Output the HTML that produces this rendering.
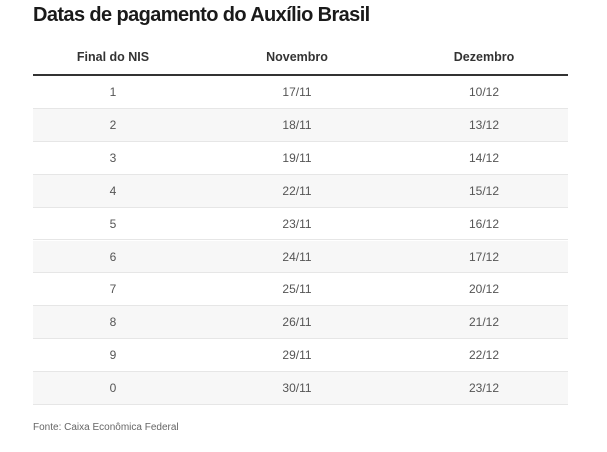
<!DOCTYPE html>
<html><head><meta charset="utf-8"><style>
body{margin:0;background:#fff;width:607px;height:452px;overflow:hidden;font-family:"Liberation Sans",sans-serif;color:#222}
h1{position:absolute;left:33px;top:4px;margin:0;font-size:20px;font-weight:bold;letter-spacing:-0.6px;color:#1a1a1a}
.hdr{position:absolute;top:50px;height:24px;font-size:12.5px;font-weight:bold;color:#333;text-align:center;width:160px}
.line{position:absolute;left:33px;top:74px;width:535px;height:2px;background:#333}
.row{position:absolute;left:33px;width:535px;height:32.9px;border-bottom:1px solid #e6e6e6;box-sizing:border-box}
.row.alt{background:#f7f7f7}
.cell{position:absolute;top:0;line-height:32px;width:160px;text-align:center;font-size:12px;color:#555}
.src{position:absolute;left:33px;top:422px;font-size:10px;color:#666}
</style></head><body>
<h1>Datas de pagamento do Auxílio Brasil</h1>
<div class="hdr" style="left:33px">Final do NIS</div>
<div class="hdr" style="left:217px">Novembro</div>
<div class="hdr" style="left:404px">Dezembro</div>
<div class="line"></div>
<div id="rows"></div>
<div class="src">Fonte: Caixa Econômica Federal</div>
<script>
const nis=["1","2","3","4","5","6","7","8","9","0"];
const nov=["17/11","18/11","19/11","22/11","23/11","24/11","25/11","26/11","29/11","30/11"];
const dez=["10/12","13/12","14/12","15/12","16/12","17/12","20/12","21/12","22/12","23/12"];
const c=document.getElementById('rows');
nis.forEach((n,i)=>{
  const r=document.createElement('div');
  r.className='row'+(i%2?' alt':'');
  r.style.top=(76+i*32.9)+'px';
  
  
  [[n,0],[nov[i],184],[dez[i],371]].forEach(([t,x])=>{
    const d=document.createElement('div');
    d.className='cell';d.style.left=x+'px';d.textContent=t;
    
    
    r.appendChild(d);
  });
  c.appendChild(r);
});
</script>
</body></html>
